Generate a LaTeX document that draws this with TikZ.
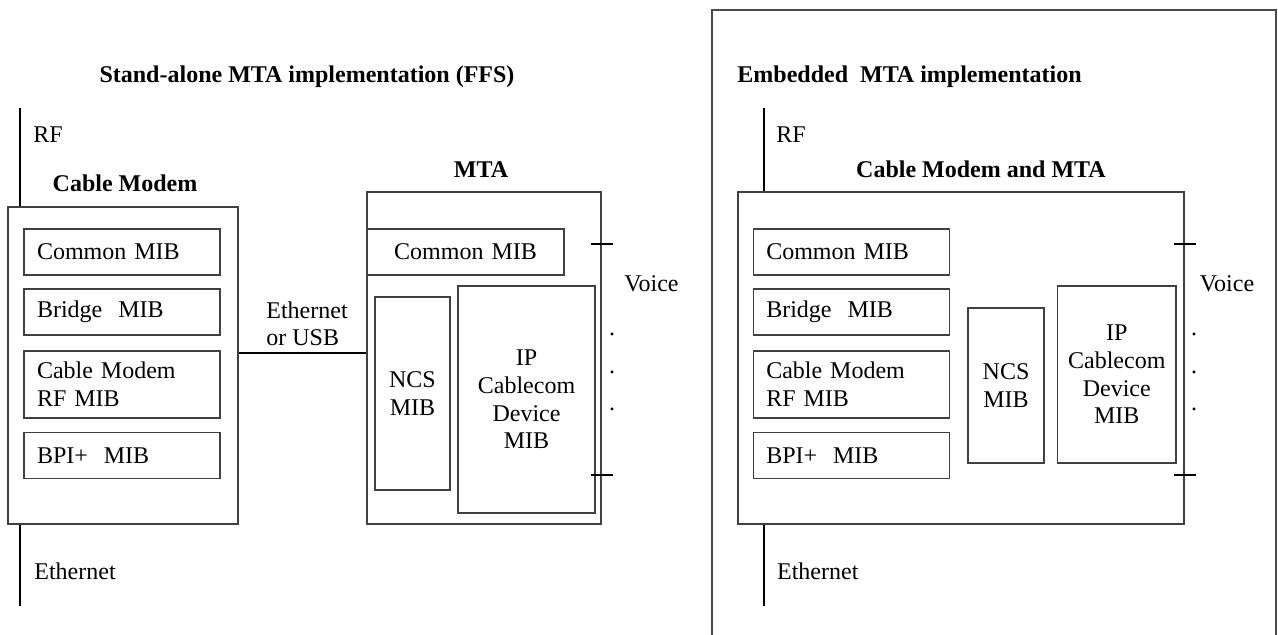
\documentclass[tikz,border=0pt]{standalone}
\usepackage{fontspec}
\setmainfont{Liberation Serif}
\begin{document}
\begin{tikzpicture}[x=0.5pt,y=-0.5pt,
    every node/.style={font=\fontsize{12}{13.8}\selectfont},
    tag/.style={inner sep=0pt},
    heading/.style={inner sep=0pt,font=\fontsize{12}{13.8}\selectfont\bfseries},
    outerbox/.style={draw=black!75,line width=0.7pt},
    mibbox/.style={draw=black!75,line width=0.7pt,text width=85pt,inner xsep=6.5pt,inner ysep=0pt,minimum height=23pt,align=left},
    subbox/.style={draw=black!75,line width=0.7pt,inner sep=0pt,align=center},
    wire/.style={line width=1pt},
    framing/.style={draw=black!70,line width=0.6pt}]
\useasboundingbox (0,0) rectangle (1278,635);
\node[heading,anchor=base] (sttitle) at (307,83) {Stand-alone MTA implementation (FFS)};
\node[tag,anchor=base west] (rf) at (33,143) {RF};
\node[heading,anchor=base] (cmtitle) at (125,192) {Cable Modem};
\node[heading,anchor=base] (mtatitle) at (481,178) {MTA};
\node[outerbox,minimum width=115pt,minimum height=158.5pt] (cm) at (123,365.5) {};
\node[mibbox] (cmcommon) at (122,252) {Common MIB};
\node[mibbox] (cmbridge) at (122,312) {Bridge\ \ MIB};
\node[mibbox,minimum height=33.5pt] (cmrf) at (122,384.5) {Cable Modem\\RF MIB};
\node[mibbox] (cmbpi) at (122,455.5) {BPI+\ \ MIB};
\node[outerbox,minimum width=117pt,minimum height=166pt] (mta) at (484,358) {};
\node[mibbox,text width=85.5pt,align=center] (mtacommon) at (465.5,252) {Common MIB};
\node[subbox,minimum width=37.5pt,minimum height=96.5pt] (ncs) at (412.5,393.5) {NCS\\MIB};
\node[subbox,minimum width=68.5pt,minimum height=113.5pt] (ipc) at (526.5,399.5) {IP\\Cablecom\\Device\\MIB};
\node[tag,anchor=west,align=left] (usb) at (266,323.6) {Ethernet\\or USB};
\node[tag,anchor=base west] (voice) at (624,292) {Voice};
\foreach \d [count=\i] in {336,374,411}
    \node[tag,anchor=base] (dot\i) at (612,\d) {.};
\node[tag,anchor=base west] (eth) at (34,579) {Ethernet};
\coordinate (rftop) at (19.6,108);
\coordinate (ethend) at (19.6,606);
\coordinate (usbline) at (300,353);
\draw[wire] (rftop) -- (rftop |- cm.north);
\draw[wire] (cm.south -| ethend) -- (ethend);
\draw[wire] (usbline -| cm.east) -- (usbline -| mta.west);
\foreach \t in {244,475} {
    \coordinate (tick) at (mta.east |- 0,\t);
    \draw[wire] ([xshift=-5.5pt]tick) -- ([xshift=5.5pt]tick);
}

\draw[framing] (712,635) -- (712,10) -- (1276,10) -- (1276,635);
\node[heading,anchor=base west] (emtitle) at (737,83) {Embedded\ \ MTA implementation};
\node[tag,anchor=base west] (erf) at (776,143) {RF};
\node[heading,anchor=base] (embtitle) at (981,178) {Cable Modem and MTA};
\node[outerbox,minimum width=223pt,minimum height=166pt] (emb) at (961,358) {};
\node[mibbox] (ecommon) at (851.25,252) {Common MIB};
\node[mibbox] (ebridge) at (851.25,312) {Bridge\ \ MIB};
\node[mibbox,minimum height=33.5pt] (ecmrf) at (851.25,384.5) {Cable Modem\\RF MIB};
\node[mibbox] (ebpi) at (851.25,455.5) {BPI+\ \ MIB};
\node[subbox,minimum width=38pt,minimum height=77.5pt] (encs) at (1006,385.5) {NCS\\MIB};
\node[subbox,minimum width=59.25pt,minimum height=88.5pt] (eipc) at (1116.75,374.5) {IP\\Cablecom\\Device\\MIB};
\node[tag,anchor=base west] (evoice) at (1199.5,292) {Voice};
\foreach \d [count=\i] in {336,374,411}
    \node[tag,anchor=base] (edot\i) at (1194,\d) {.};
\node[tag,anchor=base west] (eeth) at (776.7,579) {Ethernet};
\coordinate (erftop) at (763.8,108);
\coordinate (eethend) at (763.8,606);
\draw[wire] (erftop) -- (erftop |- emb.north);
\draw[wire] (emb.south -| eethend) -- (eethend);
\foreach \t in {244,475} {
    \coordinate (etick) at (emb.east |- 0,\t);
    \draw[wire] ([xshift=-5.5pt]etick) -- ([xshift=5.5pt]etick);
}
\end{tikzpicture}
\end{document}
